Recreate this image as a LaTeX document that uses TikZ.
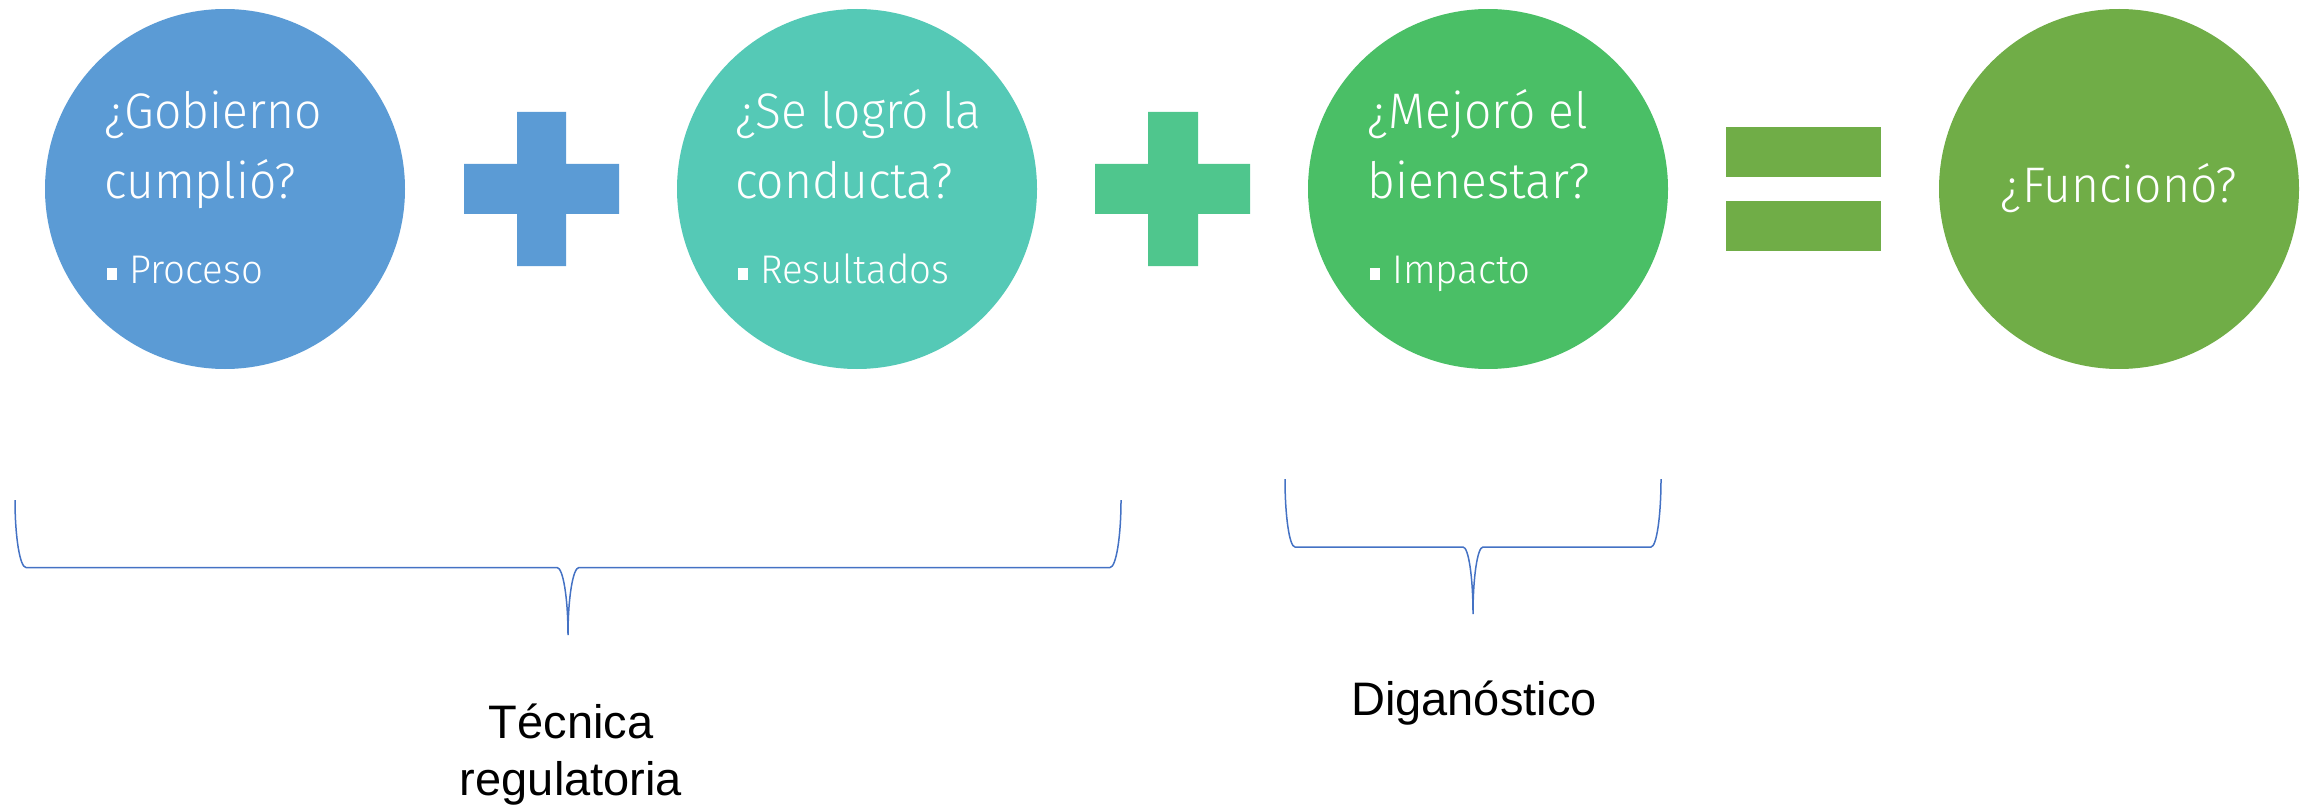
\documentclass[tikz,border=0pt]{standalone}
\usepackage{fontspec}
\setmainfont{Liberation Sans}
\IfFontExistsTF{Fira Sans Light}{\newfontfamily\circfont{Fira Sans Light}[FakeStretch=0.96]}{\newfontfamily\circfont{Fira Sans}[FakeStretch=0.96]}
\definecolor{cblue}{RGB}{91,155,213}
\definecolor{cteal}{RGB}{85,201,182}
\definecolor{pgreen}{RGB}{79,198,141}
\definecolor{cgreen}{RGB}{74,191,102}
\definecolor{colive}{RGB}{112,173,71}
\definecolor{braceblue}{RGB}{68,114,196}
\newcommand\myblt[1]{{\fontsize{40}{47}\selectfont\hspace*{3pt}\rule[4pt]{10pt}{12pt}\hspace{12pt}#1}}
\begin{document}
\begin{tikzpicture}[x=1pt,y=-1pt,
  bubble/.style={circle, minimum size=360pt, inner sep=0pt, draw=none},
  qtext/.style={anchor=base west, inner sep=0pt, text=white, font=\circfont\fontsize{50}{70}\selectfont},
  lblstyle/.style={anchor=base, inner sep=0pt, text=black, font=\fontsize{47}{57}\selectfont},
  bracestyle/.style={draw=braceblue, line width=1.5pt}]
\useasboundingbox (0,0) rectangle (2313,805);

% circles
\node[bubble, fill=cblue]  (c1) at (225,189) {};
\node[bubble, fill=cteal]  (c2) at (857,189) {};
\node[bubble, fill=cgreen] (c3) at (1488,189) {};
\node[bubble, fill=colive] (c4) at (2119,189) {};

% texts in circles
\node[qtext] (t1) at (104,129) {\begin{tabular}[t]{@{}l@{}}¿Gobierno\\cumplió?\\[15pt]\myblt{Proceso}\end{tabular}};
\node[qtext] (t2) at (735,129) {\begin{tabular}[t]{@{}l@{}}¿Se logró la\\conducta?\\[15pt]\myblt{Resultados}\end{tabular}};
\node[qtext] (t3) at (1367,129) {\begin{tabular}[t]{@{}l@{}}¿Mejoró el\\bienestar?\\[15pt]\myblt{Impacto}\end{tabular}};
\node[qtext, anchor=base] (t4) at (2119,203) {¿Funcionó?};

% plus signs
\fill[cblue] (517,112) -- (566,112) -- (566,164) -- (619,164) -- (619,214) -- (566,214) -- (566,266) -- (517,266) -- (517,214) -- (464,214) -- (464,164) -- (517,164) -- cycle;
\fill[pgreen] (1148,112) -- (1198,112) -- (1198,164) -- (1250,164) -- (1250,214) -- (1198,214) -- (1198,266) -- (1148,266) -- (1148,214) -- (1095,214) -- (1095,164) -- (1148,164) -- cycle;

% equals sign
\fill[colive] (1726,127) rectangle (1881,177);
\fill[colive] (1726,201) rectangle (1881,251);

% braces
\draw[bracestyle] (15,500) .. controls (15,537.3) and (20,567.5) .. (26,567.5)
  -- (557,567.5) .. controls (563,567.5) and (568,597.7) .. (568,635)
  .. controls (568,597.7) and (573,567.5) .. (579,567.5)
  -- (1110,567.5) .. controls (1116,567.5) and (1121,537.3) .. (1121,500);
\draw[bracestyle] (1285,479) .. controls (1285,516.6) and (1289.5,547) .. (1295,547)
  -- (1463,547) .. controls (1468.5,547) and (1473,577) .. (1473,614)
  .. controls (1473,577) and (1477.5,547) .. (1483,547)
  -- (1651,547) .. controls (1656.5,547) and (1661,516.6) .. (1661,479);

% labels
\node[lblstyle] (tec) at (571,738) {\begin{tabular}[t]{@{}c@{}}Técnica\\regulatoria\end{tabular}};
\node[lblstyle] (dia) at (1474,715) {Diganóstico};
\end{tikzpicture}
\end{document}
